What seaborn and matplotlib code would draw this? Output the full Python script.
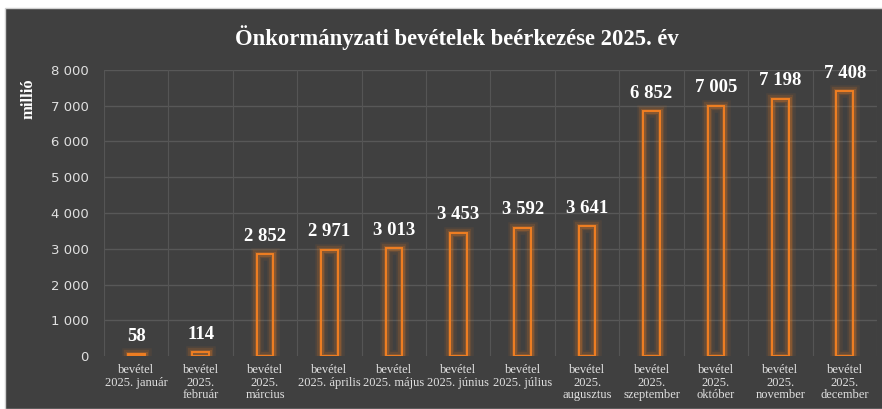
import matplotlib
matplotlib.use("Agg")
import matplotlib.pyplot as plt
import matplotlib.patheffects as pe
from matplotlib.patches import Rectangle
import seaborn as sns
import pandas as pd

# data
honapok = ["bevétel\n2025. január", "bevétel\n2025.\nfebruár", "bevétel\n2025.\nmárcius",
           "bevétel\n2025. április", "bevétel\n2025. május", "bevétel\n2025. június",
           "bevétel\n2025. július", "bevétel\n2025.\naugusztus", "bevétel\n2025.\nszeptember",
           "bevétel\n2025.\noktóber", "bevétel\n2025.\nnovember", "bevétel\n2025.\ndecember"]
bevetel = [58, 114, 2852, 2971, 3013, 3453, 3592, 3641, 6852, 7005, 7198, 7408]
y_ticks = [0, 1000, 2000, 3000, 4000, 5000, 6000, 7000, 8000]

df = pd.DataFrame({"honap": honapok, "bevetel": bevetel})

sns.set_theme(style="dark")
bg = "#404040"
orange = "#F07F22"
serif = "Liberation Serif"

fig = plt.figure(figsize=(8.82, 4.09), dpi=100, facecolor="white")
fig.patches.append(Rectangle((5 / 882, 0), 1, 1 - 8 / 409, transform=fig.transFigure,
                             facecolor=bg, edgecolor="#d0d0d0", linewidth=1, zorder=-5))
ax = fig.add_axes([104 / 882, 1 - 356 / 409, (877 - 104) / 882, (356 - 70) / 409])
ax.set_zorder(2)
ax.set_facecolor(bg)

sns.barplot(data=df, x="honap", y="bevetel", ax=ax, width=0.26,
            facecolor="none", edgecolor=orange, linewidth=1.4, zorder=3)

glow = [pe.Stroke(linewidth=9, foreground=orange, alpha=0.08),
        pe.Stroke(linewidth=6, foreground=orange, alpha=0.15),
        pe.Stroke(linewidth=3.5, foreground=orange, alpha=0.25),
        pe.Normal()]
for p in ax.patches:
    p.set_path_effects(glow)

for i, v in enumerate(bevetel):
    ax.text(i, v + 260, f"{v:,}".replace(",", " "), ha="center", va="bottom",
            fontsize=13.5, fontweight="bold", color="white", family=serif)

ax.set_ylim(0, 8000)
ax.set_xlim(-0.5, len(honapok) - 0.5)
ax.set_yticks(y_ticks)
ax.set_yticklabels([f"{t:,}".replace(",", " ") for t in y_ticks], color="#e0e0e0", fontsize=9.5)
ax.set_xticks(range(len(honapok)))
ax.set_xticklabels(honapok, color="#e0e0e0", fontsize=9, family=serif, linespacing=1.05)
ax.tick_params(axis="both", length=0)
ax.tick_params(axis="x", pad=6)
ax.tick_params(axis="y", pad=11)

# grid: horizontal at ticks, vertical between categories
for t in y_ticks[1:]:
    ax.axhline(t, color="#585858", linewidth=1, zorder=1)
for b in [i + 0.5 for i in range(-1, len(honapok))]:
    ax.axvline(b, color="#555555", linewidth=0.8, zorder=1)
for s in ax.spines.values():
    s.set_visible(False)

ax.set_xlabel("")
ax.set_ylabel("millió", color="white", fontsize=12, fontweight="bold", family=serif)
ax.yaxis.set_label_coords(-0.087, 0.90)

fig.text(0.518, 1 - 38 / 409, "Önkormányzati bevételek beérkezése 2025. év", ha="center", va="center",
         color="white", fontsize=16.3, fontweight="bold", family=serif)

fig.savefig("out.png", dpi=100, facecolor=fig.get_facecolor())
